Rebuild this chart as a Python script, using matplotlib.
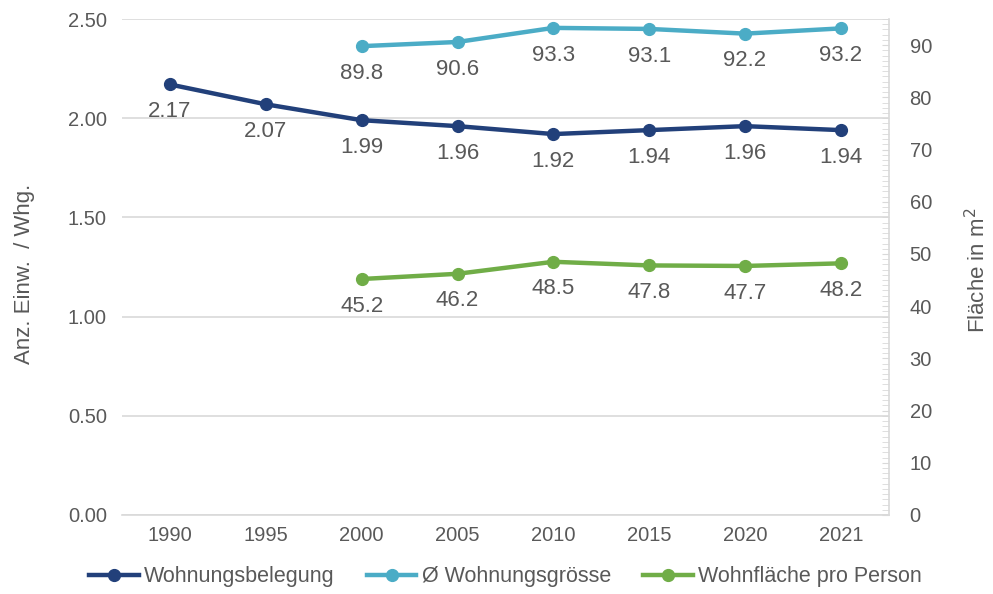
import numpy as np
import matplotlib.pyplot as plt
from matplotlib.ticker import MultipleLocator, FormatStrFormatter
from matplotlib.lines import Line2D

plt.rcParams['font.family'] = ['Liberation Sans', 'DejaVu Sans']

years = ['1990', '1995', '2000', '2005', '2010', '2015', '2020', '2021']
belegung = [2.17, 2.07, 1.99, 1.96, 1.92, 1.94, 1.96, 1.94]
groesse = [None, None, 89.8, 90.6, 93.3, 93.1, 92.2, 93.2]
flaeche_pp = [None, None, 45.2, 46.2, 48.5, 47.8, 47.7, 48.2]

c_blue = '#22407A'
c_teal = '#4BACC6'
c_green = '#70AD47'
c_text = '#595959'
c_grid = '#D9D9D9'

fig = plt.figure(figsize=(9.93, 5.94), dpi=100)
ax = fig.add_axes([0.123, 0.133, 0.772, 0.835])
ax2 = ax.twinx()

x = np.arange(len(years))

def draw(a, vals, col, fmt):
    xs = [i for i, v in zip(x, vals) if v is not None]
    ys = [v for v in vals if v is not None]
    a.plot(xs, ys, color=col, lw=3.2, marker='o', ms=8.5, solid_capstyle='round', zorder=3)
    for xi, yi in zip(xs, ys):
        a.annotate(fmt % yi, (xi, yi), xytext=(0, -12), textcoords='offset points',
                   ha='center', va='top', fontsize=16, color=c_text)

draw(ax, belegung, c_blue, '%.2f')
draw(ax2, groesse, c_teal, '%.1f')
draw(ax2, flaeche_pp, c_green, '%.1f')

ax.set_xlim(-0.5, len(years) - 0.5)
ax.set_ylim(0, 2.5)
ax.yaxis.set_major_locator(MultipleLocator(0.5))
ax.yaxis.set_major_formatter(FormatStrFormatter('%.2f'))
ax.grid(axis='y', color=c_grid, lw=1.2)
ax.set_axisbelow(True)
ax.set_xticks(x)
ax.set_xticklabels(years)
ax.tick_params(axis='both', length=0, labelsize=14.5, labelcolor=c_text)
ax.tick_params(axis='x', pad=8)
ax.tick_params(axis='y', pad=11)
for s in ['top', 'left', 'right']:
    ax.spines[s].set_visible(False)
ax.spines['bottom'].set_color(c_grid)
ax.spines['bottom'].set_linewidth(1.2)

ax2.set_ylim(0, 95)
ax2.yaxis.set_major_locator(MultipleLocator(10))
ax2.yaxis.set_minor_locator(MultipleLocator(1))
ax2.tick_params(axis='y', which='major', direction='in', length=5, color=c_grid,
                labelsize=14.5, labelcolor=c_text, pad=15)
ax2.tick_params(axis='y', which='minor', direction='in', length=5, color=c_grid)
for s in ['top', 'left', 'bottom']:
    ax2.spines[s].set_visible(False)
ax2.spines['right'].set_color(c_grid)
ax2.spines['right'].set_linewidth(1.2)

fig.text(25 / 993, 1 - 274 / 594, 'Anz. Einw.  / Whg.', rotation=90, ha='center',
         va='center', fontsize=16, color=c_text)
fig.text(978 / 993, 1 - 270 / 594, 'Fläche in m$^2$', rotation=90, ha='center',
         va='center', fontsize=16, color=c_text)

handles = [Line2D([], [], color=c, lw=3.2, marker='o', ms=8.5) for c in (c_blue, c_teal, c_green)]
labels = ['Wohnungsbelegung', 'Ø Wohnungsgrösse', 'Wohnfläche pro Person']
leg = fig.legend(handles, labels, loc='center', bbox_to_anchor=(0.509, 0.029), ncol=3,
                 frameon=False, fontsize=15.5, handlelength=2.3, handletextpad=0.25,
                 columnspacing=1.5)
for t in leg.get_texts():
    t.set_color(c_text)

fig.savefig('out.png', dpi=100)
